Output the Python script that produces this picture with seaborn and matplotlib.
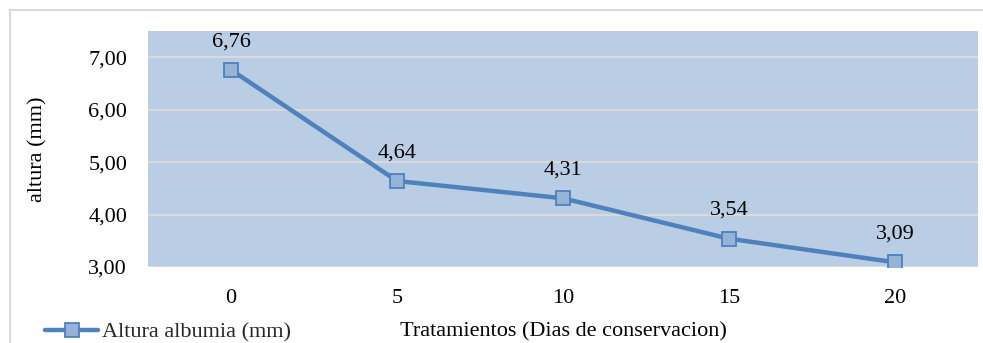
import pandas as pd
import seaborn as sns
import matplotlib.pyplot as plt
from matplotlib.ticker import FuncFormatter, MultipleLocator
from matplotlib.lines import Line2D

# Datos
dias = ["0", "5", "10", "15", "20"]
altura = [6.76, 4.64, 4.31, 3.54, 3.09]
serie = "Altura albumia (mm)"

df = pd.DataFrame({"dias": dias, "altura": altura})

sns.set_theme(style="white")
plt.rcParams["font.family"] = ["Liberation Serif", "DejaVu Serif"]
fs = 16

fig = plt.figure(figsize=(9.83, 3.43), dpi=100)
ax = fig.add_axes([148 / 983, 76 / 343, 830 / 983, 236 / 343])
ax.set_facecolor("#b9cde5")

linea, marca = "#4f81bd", "#95b3d7"
sns.lineplot(
    data=df, x="dias", y="altura", ax=ax, color=linea, linewidth=3.2,
    marker="s", markersize=9.5, markerfacecolor=marca,
    markeredgecolor=linea, markeredgewidth=1.3, label=serie,
)

# etiquetas de datos
for i, v in enumerate(altura):
    ax.annotate(f"{v:.2f}".replace(".", ","), (i, v), xytext=(0, 13.5),
                textcoords="offset points", ha="center", va="bottom",
                fontsize=fs, color="black")

ax.set_xlim(-0.5, len(dias) - 0.5)
ax.set_ylim(3, 7.5)
ax.yaxis.set_major_locator(MultipleLocator(1))
ax.yaxis.set_major_formatter(FuncFormatter(lambda v, p: f"{v:.2f}".replace(".", ",")))
ax.yaxis.grid(True, color="#d9d9d9", linewidth=1.5)
ax.set_axisbelow(True)
ax.tick_params(axis="y", length=0, pad=15, labelsize=fs, labelcolor="black")
ax.tick_params(axis="x", length=0, pad=16, labelsize=fs, labelcolor="black")
for s in ax.spines.values():
    s.set_visible(False)

ax.set_ylabel("altura (mm)", fontsize=fs, color="black")
ax.yaxis.set_label_coords(-0.121, 0.5)
ax.set_xlabel("Tratamientos (Dias de conservacion)", fontsize=fs, color="black")
ax.xaxis.set_label_coords(0.5, -0.236)

leg = ax.legend(loc="center left", bbox_to_anchor=(45 / 983, 11 / 343),
                bbox_transform=fig.transFigure, frameon=False, borderpad=0,
                borderaxespad=0, handlelength=2.4, handletextpad=0.15,
                fontsize=fs)

# borde del area del grafico (recortado)
fig.add_artist(Line2D([10 / 983, 1], [1 - 10 / 343, 1 - 10 / 343],
                      transform=fig.transFigure, color="#d9d9d9", linewidth=1.5))
fig.add_artist(Line2D([10 / 983, 10 / 983], [0, 1 - 10 / 343],
                      transform=fig.transFigure, color="#d9d9d9", linewidth=1.5))

fig.savefig("out.png", dpi=100)
